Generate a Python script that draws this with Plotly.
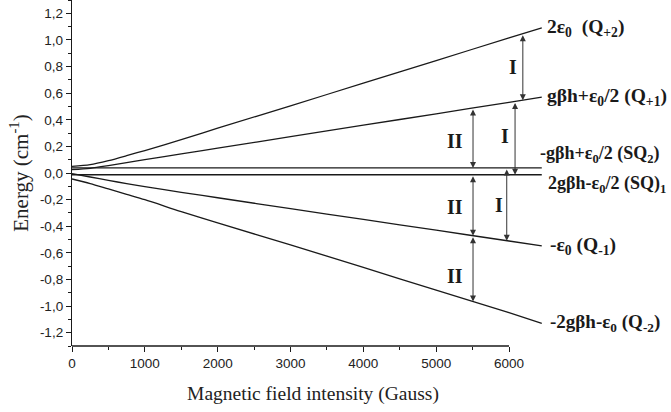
import numpy as np
import plotly.graph_objects as go

# ---- data ----
field = [0, 250, 500, 750, 1000, 1500, 2000, 3000, 4000, 5000, 6000, 6450]
q_p2 = [0.05, 0.063, 0.093, 0.13, 0.169, 0.25, 0.337, 0.505, 0.675, 0.845, 1.015, 1.09]
q_p1 = [0.025, 0.035, 0.055, 0.078, 0.10, 0.144, 0.187, 0.273, 0.359, 0.445, 0.531, 0.57]
sq_2 = [0.038, 0.038, 0.038, 0.038, 0.038, 0.038, 0.038, 0.038, 0.038, 0.038, 0.038, 0.038]
sq_1 = [-0.013, -0.013, -0.013, -0.013, -0.013, -0.013, -0.013, -0.013, -0.013, -0.013, -0.013, -0.013]
q_m1 = [-0.005, -0.03, -0.055, -0.08, -0.103, -0.145, -0.186, -0.268, -0.349, -0.43, -0.511, -0.548]
q_m2 = [-0.045, -0.08, -0.12, -0.16, -0.20, -0.29, -0.375, -0.54, -0.71, -0.88, -1.05, -1.13]

level_names = ["Q+2", "Q+1", "SQ2", "SQ1", "Q-1", "Q-2"]
level_values = [q_p2, q_p1, sq_2, sq_1, q_m1, q_m2]
level_labels = [
    "<b>2ε<sub>0</sub>  (Q<sub>+2</sub>)</b>",
    "<b>gβh+ε<sub>0</sub>/2 (Q<sub>+1</sub>)</b>",
    "<b>-gβh+ε<sub>0</sub>/2 (SQ<sub>2</sub>)</b>",
    "<b>2gβh-ε<sub>0</sub>/2 (SQ)<sub>1</sub></b>",
    "<b>-ε<sub>0</sub> (Q<sub>-1</sub>)</b>",
    "<b>-2gβh-ε<sub>0</sub> (Q<sub>-2</sub>)</b>",
]

# transitions: field position, upper level, lower level
arrow_field = [6190, 5506, 6083, 5506, 5969, 5506]
arrow_from = ["Q+2", "Q+1", "Q+1", "SQ1", "SQ2", "Q-1"]
arrow_to = ["Q+1", "SQ2", "SQ1", "Q-1", "Q-1", "Q-2"]

trans_labels = ["I", "II", "I", "II", "I", "II"]
trans_label_x = [6055, 5259, 5945, 5259, 5863, 5259]
trans_label_y = [0.80, 0.243, 0.28, -0.254, -0.24, -0.774]

x_tickvals = [0, 1000, 2000, 3000, 4000, 5000, 6000]
x_ticktext = ["0", "1000", "2000", "3000", "4000", "5000", "6000"]
x_minor = [500, 1500, 2500, 3500, 4500, 5500]
y_tickvals = [-1.2, -1.0, -0.8, -0.6, -0.4, -0.2, 0.0, 0.2, 0.4, 0.6, 0.8, 1.0, 1.2]
y_ticktext = ["-1,2", "-1,0", "-0,8", "-0,6", "-0,4", "-0,2", "0,0", "0,2", "0,4", "0,6", "0,8", "1,0", "1,2"]

# ---- layout constants ----
W, H = 671, 412
ML, MR, MT, MB = 72, 117, 0, 66
AXIS_PX = 437.0          # pixel length of 0..6000 G
plot_w = W - ML - MR
x_max = 6000.0 * plot_w / AXIS_PX

SERIF = "Liberation Serif"
SANS = "Liberation Sans"
INK = "#1a1a1a"

fig = go.Figure()
for name, vals in zip(level_names, level_values):
    fig.add_trace(go.Scatter(x=field, y=vals, mode="lines", name=name,
                             line=dict(color=INK, width=1.3, shape="spline", smoothing=0.8),
                             hoverinfo="skip"))

lev = dict(zip(level_names, level_values))
annotations = []
label_yshift = [0, 0, 13, -10, 0, 0]
label_xshift = [3, 3, -4, 4, 6, 6]
label_size = [19.5, 19.5, 18, 18, 19.5, 19]
for vals, text, ys, xs, fs in zip(level_values, level_labels, label_yshift, label_xshift, label_size):
    annotations.append(dict(x=field[-1], y=vals[-1], xref="x", yref="y", text=text,
                            showarrow=False, xanchor="left", yanchor="middle",
                            xshift=xs, yshift=ys,
                            font=dict(family=SERIF, size=fs, color=INK)))

for fx, a, b in zip(arrow_field, arrow_from, arrow_to):
    ya = float(np.interp(fx, field, lev[a]))
    yb = float(np.interp(fx, field, lev[b]))
    annotations.append(dict(x=fx, y=yb, ax=fx, ay=ya, xref="x", yref="y",
                            axref="x", ayref="y", text="", showarrow=True,
                            arrowhead=2, startarrowhead=2, arrowside="end+start",
                            arrowsize=1.2, startarrowsize=1.2, arrowwidth=1,
                            arrowcolor="#333333", standoff=0, startstandoff=0))

for t, lx, ly in zip(trans_labels, trans_label_x, trans_label_y):
    annotations.append(dict(x=lx, y=ly, xref="x", yref="y", text="<b>%s</b>" % t,
                            showarrow=False, xanchor="center", yanchor="middle",
                            font=dict(family=SERIF, size=20, color=INK)))

fig.update_layout(
    width=W, height=H,
    margin=dict(l=ML, r=MR, t=MT, b=MB, pad=0),
    plot_bgcolor="white", paper_bgcolor="white",
    showlegend=False,
    annotations=annotations,
    shapes=[dict(type="line", xref="x", yref="paper", x0=0, x1=6000, y0=0, y1=0,
                 line=dict(color=INK, width=1.3), layer="above")],
    xaxis=dict(range=[0, x_max], tickmode="array", tickvals=x_tickvals, ticktext=x_ticktext,
               ticks="outside", ticklen=5, tickwidth=1, tickcolor=INK,
               showline=False, showgrid=False, zeroline=False,
               minor=dict(tickmode="array", tickvals=x_minor, ticks="outside",
                          ticklen=3, tickwidth=1, tickcolor=INK, showgrid=False),
               tickfont=dict(family=SANS, size=13.5, color="#222"),
               title=dict(text="Magnetic field intensity (Gauss)", standoff=16,
                          font=dict(family=SERIF, size=19.5, color="#222"))),
    yaxis=dict(range=[-1.3, 1.3], tickmode="array", tickvals=y_tickvals, ticktext=y_ticktext,
               ticks="outside", ticklen=5, tickwidth=1, tickcolor=INK,
               showline=True, linecolor=INK, linewidth=1.3,
               showgrid=False, zeroline=False,
               minor=dict(dtick=0.1, tick0=0, ticks="outside", ticklen=3, tickwidth=1,
                          tickcolor=INK, showgrid=False),
               tickfont=dict(family=SANS, size=13.5, color="#222"),
               title=dict(text="Energy (cm<sup>-1</sup>)", standoff=5,
                          font=dict(family=SERIF, size=21, color="#222"))),
)

fig.write_html("out.html")
